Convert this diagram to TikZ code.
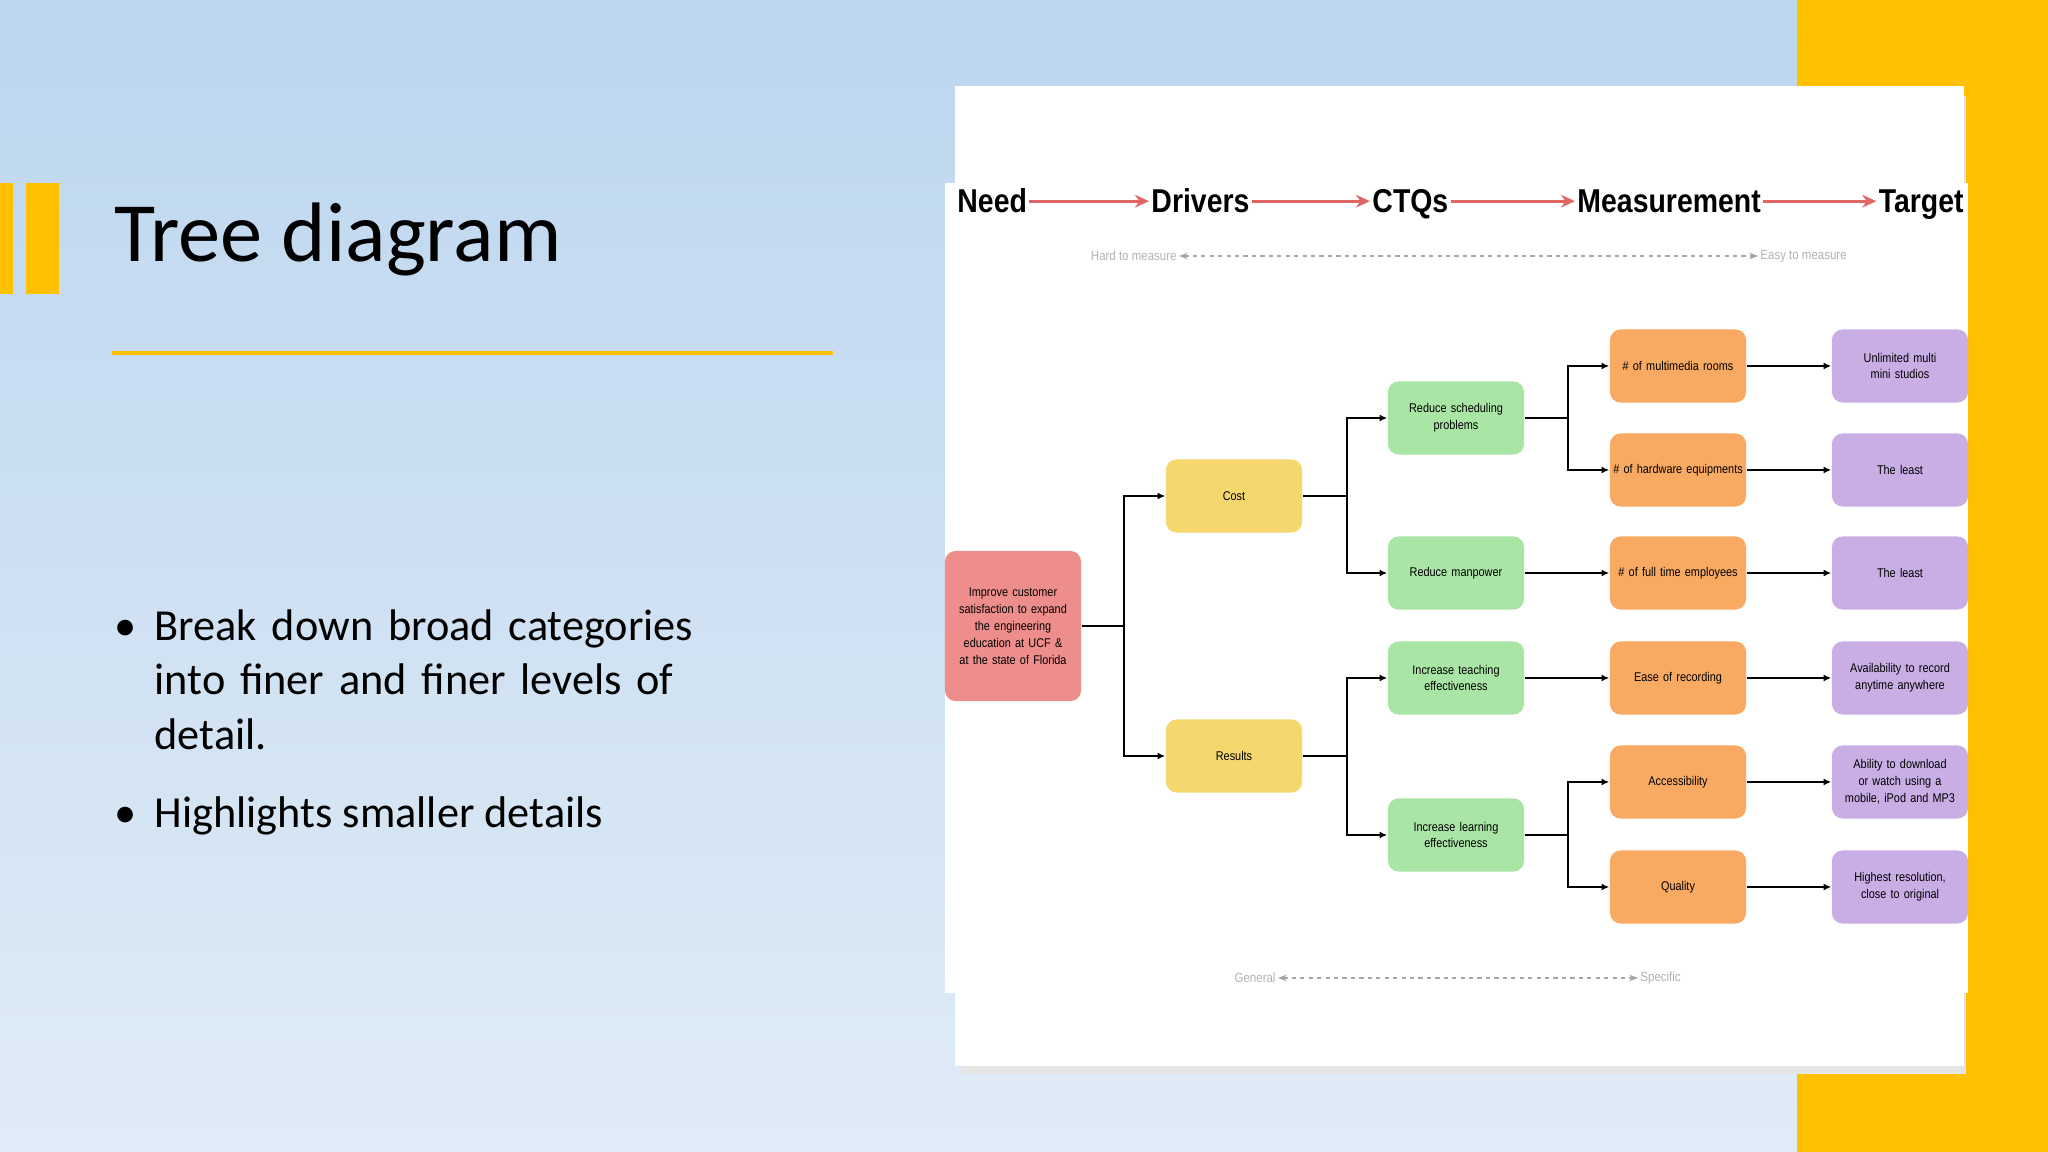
\documentclass[tikz,border=0pt]{standalone}
\usepackage{fontspec}
\setmainfont{Carlito}
\newfontfamily\boxfont[FakeStretch=0.86]{Liberation Sans}
\usetikzlibrary{arrows.meta}
\definecolor{slideyellow}{HTML}{FFC000}
\definecolor{skytop}{HTML}{BCD6EE}
\definecolor{skybottom}{HTML}{E0EBF7}
\definecolor{needred}{HTML}{EE8E8C}
\definecolor{driveryellow}{HTML}{F5D76E}
\definecolor{ctqgreen}{HTML}{A9E5A4}
\definecolor{measorange}{HTML}{F9AA62}
\definecolor{targetpurple}{HTML}{C9AEE5}
\definecolor{headred}{HTML}{E06666}
\begin{document}
\begin{tikzpicture}[x=0.01cm,y=-0.01cm,
  box/.style={rounded corners=3pt,minimum width=1.36cm,minimum height=0.73cm,
    align=center,font=\boxfont\fontsize{3.6}{4.8}\selectfont,inner sep=0.5pt,text width=1.32cm,
    execute at begin node={\hyphenpenalty=10000\relax}},
  conn/.style={line width=0.45pt,-{Latex[length=2.2pt,width=2pt]}},
  head/.style={font=\boxfont\bfseries\fontsize{9.4}{10}\selectfont,inner sep=0.5pt},
  headarrow/.style={headred,line width=0.8pt,-{Stealth[length=4pt,width=3.6pt]}},
  hint/.style={font=\boxfont\fontsize{3.8}{4.5}\selectfont,text=black!30,inner sep=0.5pt},
  hintarrow/.style={black!35,line width=0.4pt,dash pattern=on 1.2pt off 1.2pt,{Stealth[length=2.5pt]}-{Stealth[length=2.5pt]}},
  bullet/.style={anchor=base west,font=\fontsize{12.6}{15.6}\selectfont,inner sep=0pt}]

\useasboundingbox (0,0) rectangle (2048,1152);
\shade[top color=skytop, bottom color=skybottom] (0,0) rectangle (2048,1152);
\fill[slideyellow] (1797,0) rectangle (2048,1152);
\fill[slideyellow] (0,183) rectangle (13,294);
\fill[slideyellow] (26,183) rectangle (59,294);

%% title and bullets
\node[anchor=base west,font=\fontsize{24}{28}\selectfont,inner sep=0pt] (title) at (114,262) {Tree diagram};
\draw[slideyellow,line width=1.4pt] (112,353) -- (833,353);
\node[bullet] (dot1) at (114,640) {\textbullet};
\node[bullet,text width=6.4cm,align=left] (item1) at (154,640) {Break down broad categories\\into finer and finer levels of\\detail.};
\node[bullet] (dot2) at (114,827) {\textbullet};
\node[bullet] (item2) at (154,827) {Highlights smaller details};

%% card
\fill[black!10] (962,96) rectangle (1966,1074);
\fill[white] (955,86) rectangle (1964,1066);
\fill[white] (945,183) rectangle (1968,993);

%% header
\node[head,anchor=base west] (hneed) at (955,213) {Need};
\node[head,anchor=base west] (hdrivers) at (1149,213) {Drivers};
\node[head,anchor=base west] (hctq) at (1370,213) {CTQs};
\node[head,anchor=base west] (hmeas) at (1575,213) {Measurement};
\node[head,anchor=base east] (htarget) at (1966,213) {Target};
\draw[headarrow] (hneed.east) -- (hneed.east -| hdrivers.west);
\draw[headarrow] (hdrivers.east |- hneed.east) -- (hneed.east -| hctq.west);
\draw[headarrow] (hctq.east |- hneed.east) -- (hneed.east -| hmeas.west);
\draw[headarrow] (hmeas.east |- hneed.east) -- (hneed.east -| htarget.west);

\node[hint,anchor=east] (hard) at (1179,256) {Hard to measure};
\node[hint,anchor=west] (easy) at (1758,256) {Easy to measure};
\draw[hintarrow] (hard) -- (easy);
\node[hint,anchor=east] (general) at (1278,978) {General};
\node[hint,anchor=west] (specific) at (1638,978) {Specific};
\draw[hintarrow] (general) -- (specific);

%% tree
\node[box,fill=needred,minimum height=1.5cm] (need) at (1013,626) {Improve customer satisfaction to expand the engineering education at UCF \& at the state of Florida};

\node[box,fill=driveryellow] (cost) at (1234,496) {Cost};
\node[box,fill=driveryellow] (results) at (1234,756) {Results};

\node[box,fill=ctqgreen] (sched) at (1456,418) {Reduce scheduling problems};
\node[box,fill=ctqgreen] (manpower) at (1456,573) {Reduce manpower};
\node[box,fill=ctqgreen] (teach) at (1456,678) {Increase teaching effectiveness};
\node[box,fill=ctqgreen] (learn) at (1456,835) {Increase learning effectiveness};

\node[box,fill=measorange] (rooms) at (1678,366) {\# of multimedia rooms};
\node[box,fill=measorange] (hardware) at (1678,470) {\# of hardware equipments};
\node[box,fill=measorange] (staff) at (1678,573) {\# of full time employees};
\node[box,fill=measorange] (ease) at (1678,678) {Ease of recording};
\node[box,fill=measorange] (access) at (1678,782) {Accessibility};
\node[box,fill=measorange] (quality) at (1678,887) {Quality};

\node[box,fill=targetpurple] (studios) at (1900,366) {Unlimited multi mini studios};
\node[box,fill=targetpurple] (least1) at (1900,470) {The least};
\node[box,fill=targetpurple] (least2) at (1900,573) {The least};
\node[box,fill=targetpurple] (anytime) at (1900,678) {Availability to record anytime anywhere};
\node[box,fill=targetpurple] (mobile) at (1900,782) {Ability to download or watch using a mobile, iPod and MP3};
\node[box,fill=targetpurple] (highres) at (1900,887) {Highest resolution, close to original};

\draw[conn] (need.east) -- ++(42,0) |- (cost.west);
\draw[conn] (need.east) -- ++(42,0) |- (results.west);
\draw[conn] (cost.east) -- ++(44,0) |- (sched.west);
\draw[conn] (cost.east) -- ++(44,0) |- (manpower.west);
\draw[conn] (results.east) -- ++(44,0) |- (teach.west);
\draw[conn] (results.east) -- ++(44,0) |- (learn.west);
\draw[conn] (sched.east) -- ++(43,0) |- (rooms.west);
\draw[conn] (sched.east) -- ++(43,0) |- (hardware.west);
\draw[conn] (learn.east) -- ++(43,0) |- (access.west);
\draw[conn] (learn.east) -- ++(43,0) |- (quality.west);
\draw[conn] (manpower) -- (staff);
\draw[conn] (teach) -- (ease);
\foreach \m/\t in {rooms/studios,hardware/least1,staff/least2,ease/anytime,access/mobile,quality/highres}
  \draw[conn] (\m) -- (\t);

\end{tikzpicture}
\end{document}
